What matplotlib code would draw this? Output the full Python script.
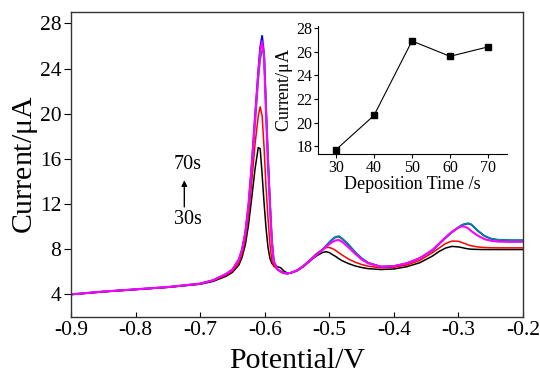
import numpy as np
import matplotlib
matplotlib.use("Agg")
import matplotlib.pyplot as plt

plt.rcParams['font.family'] = ['Liberation Serif', 'DejaVu Serif']
plt.rcParams['mathtext.fontset'] = 'stix'
plt.rcParams['axes.unicode_minus'] = False

# potential grid (V), denser around the stripping peaks
potential = [-0.90, -0.85, -0.80, -0.75, -0.70, -0.68, -0.66, -0.65, -0.64, -0.635,
             -0.63, -0.625, -0.62, -0.615, -0.61, -0.607, -0.604, -0.601, -0.598, -0.595,
             -0.592, -0.589, -0.586, -0.58, -0.575, -0.57, -0.565, -0.56, -0.55, -0.54,
             -0.53, -0.52, -0.51, -0.505, -0.50, -0.495, -0.49, -0.485, -0.48, -0.47,
             -0.46, -0.45, -0.44, -0.42, -0.40, -0.38, -0.36, -0.34, -0.33, -0.32,
             -0.31, -0.30, -0.295, -0.29, -0.285, -0.28, -0.27, -0.26, -0.25, -0.24,
             -0.22, -0.20]

i_30s = [3.98, 4.22, 4.42, 4.62, 4.90, 5.15, 5.60, 5.95, 6.60, 7.30,
         8.40, 10.2, 12.6, 15.1, 17.0, 16.9, 14.6, 12.1, 9.9, 8.2,
         7.2, 6.75, 6.55, 6.45, 6.35, 6.05, 5.9, 5.9, 6.1, 6.45,
         6.95, 7.4, 7.72, 7.78, 7.70, 7.52, 7.35, 7.15, 6.98, 6.72,
         6.52, 6.38, 6.28, 6.2, 6.25, 6.45, 6.8, 7.4, 7.8, 8.1,
         8.25, 8.2, 8.15, 8.08, 8.03, 8.0, 7.98, 7.97, 7.97, 7.97,
         7.97, 7.97]

i_40s = [4.0, 4.24, 4.44, 4.64, 4.93, 5.2, 5.7, 6.05, 6.8, 7.6,
         8.9, 11.0, 14.0, 17.3, 19.8, 20.6, 19.8, 17.0, 13.5, 10.8,
         8.5, 7.0, 6.5, 6.2, 6.05, 5.9, 5.85, 5.9, 6.15, 6.55,
         7.05, 7.6, 8.0, 8.15, 8.15, 8.05, 7.88, 7.68, 7.48, 7.12,
         6.85, 6.65, 6.5, 6.35, 6.4, 6.6, 7.0, 7.7, 8.1, 8.5,
         8.72, 8.7, 8.6, 8.5, 8.38, 8.3, 8.2, 8.15, 8.13, 8.12,
         8.12, 8.12]

i_50s = [4.0, 4.25, 4.45, 4.65, 4.95, 5.25, 5.8, 6.2, 7.1, 8.0,
         9.5, 12.0, 15.6, 19.8, 23.8, 25.9, 26.9, 25.3, 20.5, 16.0,
         12.2, 8.8, 6.9, 6.2, 6.0, 5.88, 5.85, 5.9, 6.1, 6.5,
         7.0, 7.5, 8.0, 8.3, 8.6, 8.88, 9.08, 9.12, 8.92, 8.38,
         7.74, 7.2, 6.8, 6.45, 6.5, 6.75, 7.2, 7.9, 8.45, 9.0,
         9.5, 9.93, 10.12, 10.22, 10.27, 10.18, 9.63, 9.18, 8.93, 8.83,
         8.78, 8.78]

i_60s = [4.0, 4.25, 4.45, 4.65, 4.95, 5.25, 5.8, 6.2, 7.05, 7.95,
         9.4, 11.8, 15.3, 19.0, 23.0, 24.8, 25.6, 25.4, 21.0, 16.5,
         12.5, 9.0, 7.0, 6.2, 6.0, 5.88, 5.85, 5.9, 6.1, 6.5,
         7.0, 7.5, 8.0, 8.3, 8.6, 8.9, 9.1, 9.15, 8.95, 8.4,
         7.75, 7.2, 6.8, 6.45, 6.5, 6.75, 7.2, 7.9, 8.45, 9.0,
         9.5, 9.95, 10.15, 10.25, 10.3, 10.2, 9.65, 9.2, 8.95, 8.85,
         8.8, 8.8]

i_70s = [4.0, 4.25, 4.45, 4.65, 4.95, 5.25, 5.8, 6.2, 7.1, 8.0,
         9.5, 12.0, 15.5, 19.5, 23.5, 25.5, 26.4, 25.0, 20.0, 15.5,
         12.0, 8.6, 6.9, 6.2, 6.0, 5.88, 5.85, 5.9, 6.1, 6.5,
         7.0, 7.5, 7.95, 8.2, 8.45, 8.65, 8.78, 8.82, 8.65, 8.15,
         7.6, 7.1, 6.75, 6.45, 6.5, 6.75, 7.2, 7.95, 8.5, 9.05,
         9.55, 9.9, 10.02, 10.0, 9.85, 9.6, 9.2, 8.9, 8.75, 8.68,
         8.65, 8.65]

curves = [i_30s, i_40s, i_50s, i_60s, i_70s]
colors = ['black', '#ff0000', '#0000ff', '#008b8b', '#ff00ff']
widths = [1.1, 1.1, 1.3, 1.2, 1.5]

# peak current vs deposition time
dep_time = [30, 40, 50, 60, 70]
peak_current = [17.7, 20.6, 26.9, 25.6, 26.4]

fig = plt.figure(figsize=(5.4, 3.76), dpi=100)
ax = fig.add_axes([0.1315, 0.157, 0.837, 0.811])
for y, c, lw in zip(curves, colors, widths):
    ax.plot(potential, y, color=c, lw=lw)

ax.set_xlim(-0.9, -0.2)
ax.set_ylim(2, 29)
ax.set_xticks(np.arange(-0.9, -0.15, 0.1))
ax.set_xticklabels(['%.1f' % v for v in np.arange(-0.9, -0.15, 0.1)])
ax.set_yticks(range(4, 29, 4))
ax.tick_params(axis='x', direction='in', labelsize=15.5, length=3.5, pad=3)
ax.tick_params(axis='y', direction='out', labelsize=15.5, length=5, pad=2)
for s in ax.spines.values():
    s.set_color('#333333')
    s.set_linewidth(1.0)
ax.set_xlabel('Potential/V', fontsize=21.5, labelpad=6)
ax.set_ylabel('Current/$\\mathregular{\\mu}$A', fontsize=21.5, labelpad=0)

ax.text(-0.7188, 15.47, '70s', fontsize=14.5, ha='center', va='center')
ax.text(-0.7188, 10.62, '30s', fontsize=14.5, ha='center', va='center')
ax.annotate('', xy=(-0.7245, 14.1), xytext=(-0.7245, 11.75),
            arrowprops=dict(arrowstyle='-|>', color='black', lw=1.0,
                            mutation_scale=8, shrinkA=0, shrinkB=0))

ins = fig.add_axes([0.589, 0.590, 0.350, 0.341])
ins.plot(dep_time, peak_current, color='black', lw=0.8, marker='s', ms=5)
ins.set_xlim(25.3, 75)
ins.set_ylim(17.33, 28.17)
ins.set_xticks(dep_time)
ins.set_yticks(range(18, 29, 2))
ins.spines['top'].set_visible(False)
ins.spines['right'].set_visible(False)
ins.patch.set_alpha(0)
ins.tick_params(labelsize=11.5, length=3, pad=1)
ins.set_xlabel('Deposition Time /s', fontsize=13, labelpad=0)
ins.set_ylabel('Current/$\\mathregular{\\mu}$A', fontsize=13, labelpad=1)

fig.savefig('out.png', dpi=100)
